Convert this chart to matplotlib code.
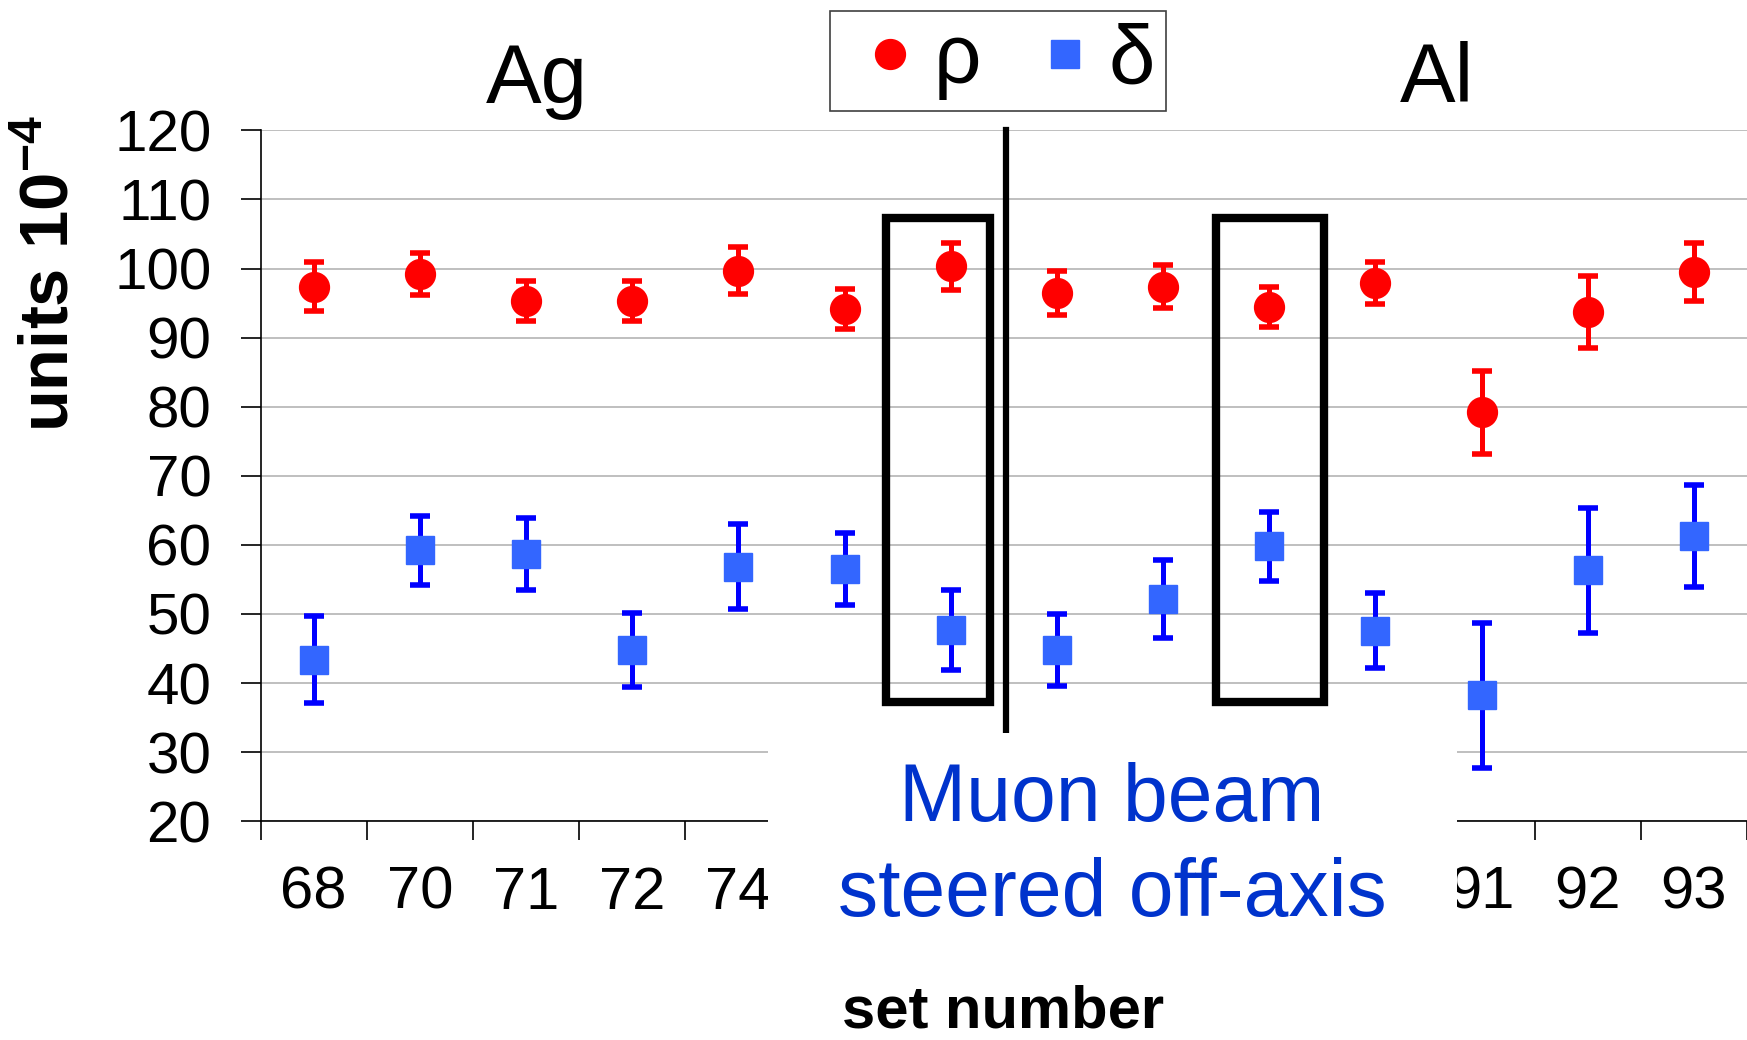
import matplotlib
matplotlib.use("Agg")
import matplotlib.pyplot as plt
from matplotlib.patches import Rectangle
from matplotlib.lines import Line2D
import numpy as np

plt.rcParams['font.family'] = ['Liberation Sans', 'DejaVu Sans']
plt.rcParams['mathtext.fontset'] = 'custom'
plt.rcParams['mathtext.rm'] = 'Liberation Sans'
plt.rcParams['mathtext.bf'] = 'Liberation Sans:bold'

# --------- data ---------
# labels under the white text box are not visible
sets = ['68', '70', '71', '72', '74', '', '', '', '', '', '', '91', '92', '93']
rho = [97.4, 99.2, 95.3, 95.3, 99.7, 94.2, 100.3, 96.5, 97.4, 94.5, 97.9, 79.2, 93.7, 99.5]
rho_err = [3.6, 3.05, 2.95, 2.95, 3.45, 2.9, 3.4, 3.15, 3.05, 2.9, 3.0, 6.0, 5.25, 4.2]
delta = [43.4, 59.2, 58.7, 44.8, 56.8, 56.5, 47.7, 44.8, 52.1, 59.8, 47.6, 38.2, 56.3, 61.3]
delta_err = [6.3, 5.05, 5.25, 5.35, 6.15, 5.25, 5.8, 5.25, 5.65, 5.0, 5.4, 10.5, 9.05, 7.4]

x = np.arange(len(sets))

fig = plt.figure(figsize=(17.47, 10.4), dpi=100)
ax = fig.add_axes([0.1492, 0.2104, 0.8508, 0.6642])

# --------- points with error bars ---------
for vals, errs, fmt, mc, ec, ms in [(rho, rho_err, 'o', '#ff0000', '#ff0000', 21.5),
                                    (delta, delta_err, 's', '#3366ff', '#0000ff', 20)]:
    eb = ax.errorbar(x, vals, yerr=errs, fmt=fmt, mfc=mc, mec=mc, ecolor=ec, ms=ms,
                     elinewidth=3.6, capsize=7.5, capthick=4, zorder=4)
    for c in eb[1]:
        c.set_solid_capstyle('round')

# --------- axes ---------
ax.set_xlim(-0.5, len(sets) - 0.5)
ax.set_ylim(20, 120)
ax.set_yticks(np.arange(20, 121, 10))
ax.set_xticks(x)
ax.set_xticklabels(sets)
ax.set_xticks(np.arange(-0.5, len(sets), 1), minor=True)
ax.tick_params(axis='x', which='major', length=0, pad=32, labelsize=43)
ax.tick_params(axis='x', which='minor', length=14, width=1.2, direction='out')
ax.tick_params(axis='y', length=14.5, width=1.2, direction='out', pad=21, labelsize=42)
ax.yaxis.grid(True, color='#b4b4b4', lw=1.2)
ax.set_axisbelow(True)
for s in ['top', 'right']:
    ax.spines[s].set_visible(False)
for s in ['left', 'bottom']:
    ax.spines[s].set_linewidth(1.2)

# --------- boxes and separator ---------
ax.add_patch(Rectangle((5.39, 37.3), 0.98, 70.0, fill=False, ec='black', lw=6,
                       clip_on=False, zorder=5))
ax.add_patch(Rectangle((8.50, 37.3), 1.02, 70.0, fill=False, ec='black', lw=6,
                       clip_on=False, zorder=5))
ax.plot([6.52, 6.52], [120, 33.2], color='black', lw=4.5, clip_on=False, zorder=5)

# --------- legend ---------
h1 = Line2D([], [], marker='o', color='#ff0000', ls='none', ms=21.5)
h2 = Line2D([], [], marker='s', color='#3366ff', ls='none', ms=20)
leg = ax.legend([h1, h2], ['ρ', 'δ'], ncol=2, loc='center',
                bbox_to_anchor=(998 / 1747, 1 - 61.3 / 1040), bbox_transform=fig.transFigure,
                fontsize=60, fancybox=False, edgecolor='#404040', framealpha=1,
                borderpad=0.13, handlelength=1.18, handletextpad=-0.06,
                columnspacing=0.41, borderaxespad=0)
leg.get_frame().set_linewidth(1.2)

# --------- texts ---------
fig.text(537 / 1747, 1 - 102.5 / 1040, 'Ag', ha='center', va='baseline', fontsize=60)
fig.text(1437 / 1747, 1 - 102.5 / 1040, 'Al', ha='center', va='baseline', fontsize=60)
fig.text(50 / 1747, 1 - 273 / 1040, r'units 10$^{\mathbf{-4}}$', rotation=90,
         ha='center', va='center', fontsize=49.5, fontweight='bold')
fig.text(1003 / 1747, 1 - 1027 / 1040, 'set number', ha='center', va='baseline',
         fontsize=43, fontweight='bold')

# white box over the middle of the x axis, with the note
fig.patches.append(Rectangle((767.7 / 1747, 1 - 950 / 1040), 689.7 / 1747, 217 / 1040,
                             transform=fig.transFigure, fc='white', ec='none', zorder=1))
fig.text(1112 / 1747, 1 - 821 / 1040, 'Muon beam', ha='center', va='baseline',
         fontsize=58, color='#0033cc', zorder=2)
fig.text(1112 / 1747, 1 - 916 / 1040, 'steered off-axis', ha='center', va='baseline',
         fontsize=58, color='#0033cc', zorder=2)

fig.savefig('out.png', dpi=100)
